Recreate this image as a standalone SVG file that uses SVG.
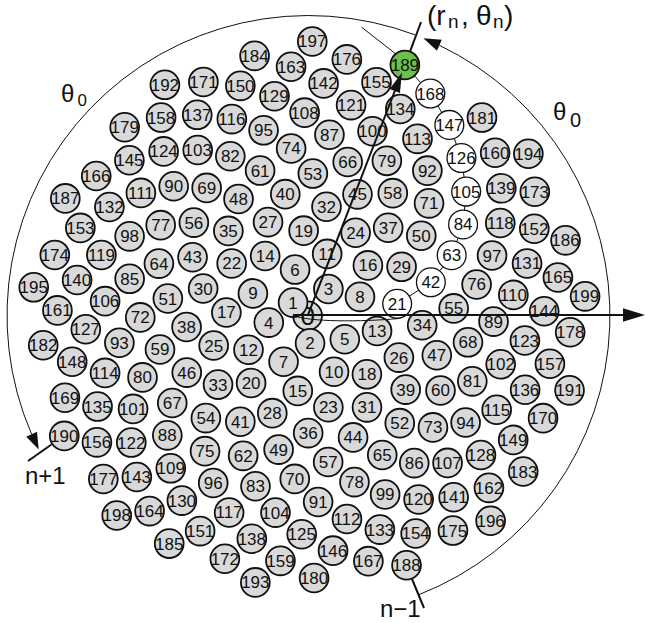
<svg xmlns="http://www.w3.org/2000/svg" width="645" height="623" viewBox="0 0 645 623">
<style>
#nodes circle{fill:#d9d9d9;stroke:#111;stroke-width:1.8}
#nodes .w circle{fill:#fff;stroke-width:1.3}
#nodes .g circle{fill:#6cbf4a}
#nodes text{font-family:"Liberation Sans",Arial,sans-serif;font-size:17px;text-anchor:middle;fill:#111}
.lbl{font-family:"Liberation Sans",Arial,sans-serif;fill:#111}
.thin{fill:none;stroke:#111;stroke-width:1}
.thick{fill:none;stroke:#111;stroke-width:2}
.head{fill:#111;stroke:none}
</style>
<rect width="645" height="623" fill="#fff"/>
<g id="nodes" transform="translate(307.6,315.8) scale(19.72,19.55)">
<g id="n0" transform="scale(.05071,.05115)"><circle r="14.4"/><text y="9.3" style="font-size:26px">0</text></g>
<g id="n1" transform="rotate(-137.51)translate(1)rotate(137.51)scale(.05071,.05115)"><circle r="14.4"/><text y="6">1</text></g>
<g id="n2" transform="rotate(-275.02)translate(1.414)rotate(275.02)scale(.05071,.05115)"><circle r="14.4"/><text y="6">2</text></g>
<g id="n3" transform="rotate(-412.52)translate(1.732)rotate(412.52)scale(.05071,.05115)"><circle r="14.4"/><text y="6">3</text></g>
<g id="n4" transform="rotate(-550.03)translate(2)rotate(550.03)scale(.05071,.05115)"><circle r="14.4"/><text y="6">4</text></g>
<g id="n5" transform="rotate(-687.54)translate(2.236)rotate(687.54)scale(.05071,.05115)"><circle r="14.4"/><text y="6">5</text></g>
<g id="n6" transform="rotate(-825.05)translate(2.449)rotate(825.05)scale(.05071,.05115)"><circle r="14.4"/><text y="6">6</text></g>
<g id="n7" transform="rotate(-962.55)translate(2.646)rotate(962.55)scale(.05071,.05115)"><circle r="14.4"/><text y="6">7</text></g>
<g id="n8" transform="rotate(-1100.06)translate(2.828)rotate(1100.06)scale(.05071,.05115)"><circle r="14.4"/><text y="6">8</text></g>
<g id="n9" transform="rotate(-1237.57)translate(3)rotate(1237.57)scale(.05071,.05115)"><circle r="14.4"/><text y="6">9</text></g>
<g id="n10" transform="rotate(-1375.08)translate(3.162)rotate(1375.08)scale(.05071,.05115)"><circle r="14.4"/><text y="6">10</text></g>
<g id="n11" transform="rotate(-1512.59)translate(3.317)rotate(1512.59)scale(.05071,.05115)"><circle r="14.4"/><text y="6">11</text></g>
<g id="n12" transform="rotate(-1650.09)translate(3.464)rotate(1650.09)scale(.05071,.05115)"><circle r="14.4"/><text y="6">12</text></g>
<g id="n13" transform="rotate(-1787.60)translate(3.606)rotate(1787.60)scale(.05071,.05115)"><circle r="14.4"/><text y="6">13</text></g>
<g id="n14" transform="rotate(-1925.11)translate(3.742)rotate(1925.11)scale(.05071,.05115)"><circle r="14.4"/><text y="6">14</text></g>
<g id="n15" transform="rotate(-2062.62)translate(3.873)rotate(2062.62)scale(.05071,.05115)"><circle r="14.4"/><text y="6">15</text></g>
<g id="n16" transform="rotate(-2200.12)translate(4)rotate(2200.12)scale(.05071,.05115)"><circle r="14.4"/><text y="6">16</text></g>
<g id="n17" transform="rotate(-2337.63)translate(4.123)rotate(2337.63)scale(.05071,.05115)"><circle r="14.4"/><text y="6">17</text></g>
<g id="n18" transform="rotate(-2475.14)translate(4.243)rotate(2475.14)scale(.05071,.05115)"><circle r="14.4"/><text y="6">18</text></g>
<g id="n19" transform="rotate(-2612.65)translate(4.359)rotate(2612.65)scale(.05071,.05115)"><circle r="14.4"/><text y="6">19</text></g>
<g id="n20" transform="rotate(-2750.16)translate(4.472)rotate(2750.16)scale(.05071,.05115)"><circle r="14.4"/><text y="6">20</text></g>
<g id="n21" class="w" transform="rotate(-2887.66)translate(4.583)rotate(2887.66)scale(.05071,.05115)"><circle r="14.4"/><text y="6">21</text></g>
<g id="n22" transform="rotate(-3025.17)translate(4.690)rotate(3025.17)scale(.05071,.05115)"><circle r="14.4"/><text y="6">22</text></g>
<g id="n23" transform="rotate(-3162.68)translate(4.796)rotate(3162.68)scale(.05071,.05115)"><circle r="14.4"/><text y="6">23</text></g>
<g id="n24" transform="rotate(-3300.19)translate(4.899)rotate(3300.19)scale(.05071,.05115)"><circle r="14.4"/><text y="6">24</text></g>
<g id="n25" transform="rotate(-3437.69)translate(5)rotate(3437.69)scale(.05071,.05115)"><circle r="14.4"/><text y="6">25</text></g>
<g id="n26" transform="rotate(-3575.20)translate(5.099)rotate(3575.20)scale(.05071,.05115)"><circle r="14.4"/><text y="6">26</text></g>
<g id="n27" transform="rotate(-3712.71)translate(5.196)rotate(3712.71)scale(.05071,.05115)"><circle r="14.4"/><text y="6">27</text></g>
<g id="n28" transform="rotate(-3850.22)translate(5.292)rotate(3850.22)scale(.05071,.05115)"><circle r="14.4"/><text y="6">28</text></g>
<g id="n29" transform="rotate(-3987.73)translate(5.385)rotate(3987.73)scale(.05071,.05115)"><circle r="14.4"/><text y="6">29</text></g>
<g id="n30" transform="rotate(-4125.23)translate(5.477)rotate(4125.23)scale(.05071,.05115)"><circle r="14.4"/><text y="6">30</text></g>
<g id="n31" transform="rotate(-4262.74)translate(5.568)rotate(4262.74)scale(.05071,.05115)"><circle r="14.4"/><text y="6">31</text></g>
<g id="n32" transform="rotate(-4400.25)translate(5.657)rotate(4400.25)scale(.05071,.05115)"><circle r="14.4"/><text y="6">32</text></g>
<g id="n33" transform="rotate(-4537.76)translate(5.745)rotate(4537.76)scale(.05071,.05115)"><circle r="14.4"/><text y="6">33</text></g>
<g id="n34" transform="rotate(-4675.26)translate(5.831)rotate(4675.26)scale(.05071,.05115)"><circle r="14.4"/><text y="6">34</text></g>
<g id="n35" transform="rotate(-4812.77)translate(5.916)rotate(4812.77)scale(.05071,.05115)"><circle r="14.4"/><text y="6">35</text></g>
<g id="n36" transform="rotate(-4950.28)translate(6)rotate(4950.28)scale(.05071,.05115)"><circle r="14.4"/><text y="6">36</text></g>
<g id="n37" transform="rotate(-5087.79)translate(6.083)rotate(5087.79)scale(.05071,.05115)"><circle r="14.4"/><text y="6">37</text></g>
<g id="n38" transform="rotate(-5225.30)translate(6.164)rotate(5225.30)scale(.05071,.05115)"><circle r="14.4"/><text y="6">38</text></g>
<g id="n39" transform="rotate(-5362.80)translate(6.245)rotate(5362.80)scale(.05071,.05115)"><circle r="14.4"/><text y="6">39</text></g>
<g id="n40" transform="rotate(-5500.31)translate(6.325)rotate(5500.31)scale(.05071,.05115)"><circle r="14.4"/><text y="6">40</text></g>
<g id="n41" transform="rotate(-5637.82)translate(6.403)rotate(5637.82)scale(.05071,.05115)"><circle r="14.4"/><text y="6">41</text></g>
<g id="n42" class="w" transform="rotate(-5775.33)translate(6.481)rotate(5775.33)scale(.05071,.05115)"><circle r="14.4"/><text y="6">42</text></g>
<g id="n43" transform="rotate(-5912.83)translate(6.557)rotate(5912.83)scale(.05071,.05115)"><circle r="14.4"/><text y="6">43</text></g>
<g id="n44" transform="rotate(-6050.34)translate(6.633)rotate(6050.34)scale(.05071,.05115)"><circle r="14.4"/><text y="6">44</text></g>
<g id="n45" transform="rotate(-6187.85)translate(6.708)rotate(6187.85)scale(.05071,.05115)"><circle r="14.4"/><text y="6">45</text></g>
<g id="n46" transform="rotate(-6325.36)translate(6.782)rotate(6325.36)scale(.05071,.05115)"><circle r="14.4"/><text y="6">46</text></g>
<g id="n47" transform="rotate(-6462.86)translate(6.856)rotate(6462.86)scale(.05071,.05115)"><circle r="14.4"/><text y="6">47</text></g>
<g id="n48" transform="rotate(-6600.37)translate(6.928)rotate(6600.37)scale(.05071,.05115)"><circle r="14.4"/><text y="6">48</text></g>
<g id="n49" transform="rotate(-6737.88)translate(7)rotate(6737.88)scale(.05071,.05115)"><circle r="14.4"/><text y="6">49</text></g>
<g id="n50" transform="rotate(-6875.39)translate(7.071)rotate(6875.39)scale(.05071,.05115)"><circle r="14.4"/><text y="6">50</text></g>
<g id="n51" transform="rotate(-7012.90)translate(7.141)rotate(7012.90)scale(.05071,.05115)"><circle r="14.4"/><text y="6">51</text></g>
<g id="n52" transform="rotate(-7150.40)translate(7.211)rotate(7150.40)scale(.05071,.05115)"><circle r="14.4"/><text y="6">52</text></g>
<g id="n53" transform="rotate(-7287.91)translate(7.280)rotate(7287.91)scale(.05071,.05115)"><circle r="14.4"/><text y="6">53</text></g>
<g id="n54" transform="rotate(-7425.42)translate(7.348)rotate(7425.42)scale(.05071,.05115)"><circle r="14.4"/><text y="6">54</text></g>
<g id="n55" transform="rotate(-7562.93)translate(7.416)rotate(7562.93)scale(.05071,.05115)"><circle r="14.4"/><text y="6">55</text></g>
<g id="n56" transform="rotate(-7700.43)translate(7.483)rotate(7700.43)scale(.05071,.05115)"><circle r="14.4"/><text y="6">56</text></g>
<g id="n57" transform="rotate(-7837.94)translate(7.550)rotate(7837.94)scale(.05071,.05115)"><circle r="14.4"/><text y="6">57</text></g>
<g id="n58" transform="rotate(-7975.45)translate(7.616)rotate(7975.45)scale(.05071,.05115)"><circle r="14.4"/><text y="6">58</text></g>
<g id="n59" transform="rotate(-8112.96)translate(7.681)rotate(8112.96)scale(.05071,.05115)"><circle r="14.4"/><text y="6">59</text></g>
<g id="n60" transform="rotate(-8250.47)translate(7.746)rotate(8250.47)scale(.05071,.05115)"><circle r="14.4"/><text y="6">60</text></g>
<g id="n61" transform="rotate(-8387.97)translate(7.810)rotate(8387.97)scale(.05071,.05115)"><circle r="14.4"/><text y="6">61</text></g>
<g id="n62" transform="rotate(-8525.48)translate(7.874)rotate(8525.48)scale(.05071,.05115)"><circle r="14.4"/><text y="6">62</text></g>
<g id="n63" class="w" transform="rotate(-8662.99)translate(7.937)rotate(8662.99)scale(.05071,.05115)"><circle r="14.4"/><text y="6">63</text></g>
<g id="n64" transform="rotate(-8800.50)translate(8)rotate(8800.50)scale(.05071,.05115)"><circle r="14.4"/><text y="6">64</text></g>
<g id="n65" transform="rotate(-8938.00)translate(8.062)rotate(8938.00)scale(.05071,.05115)"><circle r="14.4"/><text y="6">65</text></g>
<g id="n66" transform="rotate(-9075.51)translate(8.124)rotate(9075.51)scale(.05071,.05115)"><circle r="14.4"/><text y="6">66</text></g>
<g id="n67" transform="rotate(-9213.02)translate(8.185)rotate(9213.02)scale(.05071,.05115)"><circle r="14.4"/><text y="6">67</text></g>
<g id="n68" transform="rotate(-9350.53)translate(8.246)rotate(9350.53)scale(.05071,.05115)"><circle r="14.4"/><text y="6">68</text></g>
<g id="n69" transform="rotate(-9488.04)translate(8.307)rotate(9488.04)scale(.05071,.05115)"><circle r="14.4"/><text y="6">69</text></g>
<g id="n70" transform="rotate(-9625.54)translate(8.367)rotate(9625.54)scale(.05071,.05115)"><circle r="14.4"/><text y="6">70</text></g>
<g id="n71" transform="rotate(-9763.05)translate(8.426)rotate(9763.05)scale(.05071,.05115)"><circle r="14.4"/><text y="6">71</text></g>
<g id="n72" transform="rotate(-9900.56)translate(8.485)rotate(9900.56)scale(.05071,.05115)"><circle r="14.4"/><text y="6">72</text></g>
<g id="n73" transform="rotate(-10038.07)translate(8.544)rotate(10038.07)scale(.05071,.05115)"><circle r="14.4"/><text y="6">73</text></g>
<g id="n74" transform="rotate(-10175.57)translate(8.602)rotate(10175.57)scale(.05071,.05115)"><circle r="14.4"/><text y="6">74</text></g>
<g id="n75" transform="rotate(-10313.08)translate(8.660)rotate(10313.08)scale(.05071,.05115)"><circle r="14.4"/><text y="6">75</text></g>
<g id="n76" transform="rotate(-10450.59)translate(8.718)rotate(10450.59)scale(.05071,.05115)"><circle r="14.4"/><text y="6">76</text></g>
<g id="n77" transform="rotate(-10588.10)translate(8.775)rotate(10588.10)scale(.05071,.05115)"><circle r="14.4"/><text y="6">77</text></g>
<g id="n78" transform="rotate(-10725.61)translate(8.832)rotate(10725.61)scale(.05071,.05115)"><circle r="14.4"/><text y="6">78</text></g>
<g id="n79" transform="rotate(-10863.11)translate(8.888)rotate(10863.11)scale(.05071,.05115)"><circle r="14.4"/><text y="6">79</text></g>
<g id="n80" transform="rotate(-11000.62)translate(8.944)rotate(11000.62)scale(.05071,.05115)"><circle r="14.4"/><text y="6">80</text></g>
<g id="n81" transform="rotate(-11138.13)translate(9)rotate(11138.13)scale(.05071,.05115)"><circle r="14.4"/><text y="6">81</text></g>
<g id="n82" transform="rotate(-11275.64)translate(9.055)rotate(11275.64)scale(.05071,.05115)"><circle r="14.4"/><text y="6">82</text></g>
<g id="n83" transform="rotate(-11413.14)translate(9.110)rotate(11413.14)scale(.05071,.05115)"><circle r="14.4"/><text y="6">83</text></g>
<g id="n84" class="w" transform="rotate(-11550.65)translate(9.165)rotate(11550.65)scale(.05071,.05115)"><circle r="14.4"/><text y="6">84</text></g>
<g id="n85" transform="rotate(-11688.16)translate(9.220)rotate(11688.16)scale(.05071,.05115)"><circle r="14.4"/><text y="6">85</text></g>
<g id="n86" transform="rotate(-11825.67)translate(9.274)rotate(11825.67)scale(.05071,.05115)"><circle r="14.4"/><text y="6">86</text></g>
<g id="n87" transform="rotate(-11963.18)translate(9.327)rotate(11963.18)scale(.05071,.05115)"><circle r="14.4"/><text y="6">87</text></g>
<g id="n88" transform="rotate(-12100.68)translate(9.381)rotate(12100.68)scale(.05071,.05115)"><circle r="14.4"/><text y="6">88</text></g>
<g id="n89" transform="rotate(-12238.19)translate(9.434)rotate(12238.19)scale(.05071,.05115)"><circle r="14.4"/><text y="6">89</text></g>
<g id="n90" transform="rotate(-12375.70)translate(9.487)rotate(12375.70)scale(.05071,.05115)"><circle r="14.4"/><text y="6">90</text></g>
<g id="n91" transform="rotate(-12513.21)translate(9.539)rotate(12513.21)scale(.05071,.05115)"><circle r="14.4"/><text y="6">91</text></g>
<g id="n92" transform="rotate(-12650.71)translate(9.592)rotate(12650.71)scale(.05071,.05115)"><circle r="14.4"/><text y="6">92</text></g>
<g id="n93" transform="rotate(-12788.22)translate(9.644)rotate(12788.22)scale(.05071,.05115)"><circle r="14.4"/><text y="6">93</text></g>
<g id="n94" transform="rotate(-12925.73)translate(9.695)rotate(12925.73)scale(.05071,.05115)"><circle r="14.4"/><text y="6">94</text></g>
<g id="n95" transform="rotate(-13063.24)translate(9.747)rotate(13063.24)scale(.05071,.05115)"><circle r="14.4"/><text y="6">95</text></g>
<g id="n96" transform="rotate(-13200.75)translate(9.798)rotate(13200.75)scale(.05071,.05115)"><circle r="14.4"/><text y="6">96</text></g>
<g id="n97" transform="rotate(-13338.25)translate(9.849)rotate(13338.25)scale(.05071,.05115)"><circle r="14.4"/><text y="6">97</text></g>
<g id="n98" transform="rotate(-13475.76)translate(9.899)rotate(13475.76)scale(.05071,.05115)"><circle r="14.4"/><text y="6">98</text></g>
<g id="n99" transform="rotate(-13613.27)translate(9.950)rotate(13613.27)scale(.05071,.05115)"><circle r="14.4"/><text y="6">99</text></g>
<g id="n100" transform="rotate(-13750.78)translate(10)rotate(13750.78)scale(.05071,.05115)"><circle r="14.4"/><text y="6">100</text></g>
<g id="n101" transform="rotate(-13888.28)translate(10.050)rotate(13888.28)scale(.05071,.05115)"><circle r="14.4"/><text y="6">101</text></g>
<g id="n102" transform="rotate(-14025.79)translate(10.100)rotate(14025.79)scale(.05071,.05115)"><circle r="14.4"/><text y="6">102</text></g>
<g id="n103" transform="rotate(-14163.30)translate(10.149)rotate(14163.30)scale(.05071,.05115)"><circle r="14.4"/><text y="6">103</text></g>
<g id="n104" transform="rotate(-14300.81)translate(10.198)rotate(14300.81)scale(.05071,.05115)"><circle r="14.4"/><text y="6">104</text></g>
<g id="n105" class="w" transform="rotate(-14438.31)translate(10.247)rotate(14438.31)scale(.05071,.05115)"><circle r="14.4"/><text y="6">105</text></g>
<g id="n106" transform="rotate(-14575.82)translate(10.296)rotate(14575.82)scale(.05071,.05115)"><circle r="14.4"/><text y="6">106</text></g>
<g id="n107" transform="rotate(-14713.33)translate(10.344)rotate(14713.33)scale(.05071,.05115)"><circle r="14.4"/><text y="6">107</text></g>
<g id="n108" transform="rotate(-14850.84)translate(10.392)rotate(14850.84)scale(.05071,.05115)"><circle r="14.4"/><text y="6">108</text></g>
<g id="n109" transform="rotate(-14988.35)translate(10.440)rotate(14988.35)scale(.05071,.05115)"><circle r="14.4"/><text y="6">109</text></g>
<g id="n110" transform="rotate(-15125.85)translate(10.488)rotate(15125.85)scale(.05071,.05115)"><circle r="14.4"/><text y="6">110</text></g>
<g id="n111" transform="rotate(-15263.36)translate(10.536)rotate(15263.36)scale(.05071,.05115)"><circle r="14.4"/><text y="6">111</text></g>
<g id="n112" transform="rotate(-15400.87)translate(10.583)rotate(15400.87)scale(.05071,.05115)"><circle r="14.4"/><text y="6">112</text></g>
<g id="n113" transform="rotate(-15538.38)translate(10.630)rotate(15538.38)scale(.05071,.05115)"><circle r="14.4"/><text y="6">113</text></g>
<g id="n114" transform="rotate(-15675.88)translate(10.677)rotate(15675.88)scale(.05071,.05115)"><circle r="14.4"/><text y="6">114</text></g>
<g id="n115" transform="rotate(-15813.39)translate(10.724)rotate(15813.39)scale(.05071,.05115)"><circle r="14.4"/><text y="6">115</text></g>
<g id="n116" transform="rotate(-15950.90)translate(10.770)rotate(15950.90)scale(.05071,.05115)"><circle r="14.4"/><text y="6">116</text></g>
<g id="n117" transform="rotate(-16088.41)translate(10.817)rotate(16088.41)scale(.05071,.05115)"><circle r="14.4"/><text y="6">117</text></g>
<g id="n118" transform="rotate(-16225.92)translate(10.863)rotate(16225.92)scale(.05071,.05115)"><circle r="14.4"/><text y="6">118</text></g>
<g id="n119" transform="rotate(-16363.42)translate(10.909)rotate(16363.42)scale(.05071,.05115)"><circle r="14.4"/><text y="6">119</text></g>
<g id="n120" transform="rotate(-16500.93)translate(10.954)rotate(16500.93)scale(.05071,.05115)"><circle r="14.4"/><text y="6">120</text></g>
<g id="n121" transform="rotate(-16638.44)translate(11)rotate(16638.44)scale(.05071,.05115)"><circle r="14.4"/><text y="6">121</text></g>
<g id="n122" transform="rotate(-16775.95)translate(11.045)rotate(16775.95)scale(.05071,.05115)"><circle r="14.4"/><text y="6">122</text></g>
<g id="n123" transform="rotate(-16913.45)translate(11.091)rotate(16913.45)scale(.05071,.05115)"><circle r="14.4"/><text y="6">123</text></g>
<g id="n124" transform="rotate(-17050.96)translate(11.136)rotate(17050.96)scale(.05071,.05115)"><circle r="14.4"/><text y="6">124</text></g>
<g id="n125" transform="rotate(-17188.47)translate(11.180)rotate(17188.47)scale(.05071,.05115)"><circle r="14.4"/><text y="6">125</text></g>
<g id="n126" class="w" transform="rotate(-17325.98)translate(11.225)rotate(17325.98)scale(.05071,.05115)"><circle r="14.4"/><text y="6">126</text></g>
<g id="n127" transform="rotate(-17463.49)translate(11.269)rotate(17463.49)scale(.05071,.05115)"><circle r="14.4"/><text y="6">127</text></g>
<g id="n128" transform="rotate(-17600.99)translate(11.314)rotate(17600.99)scale(.05071,.05115)"><circle r="14.4"/><text y="6">128</text></g>
<g id="n129" transform="rotate(-17738.50)translate(11.358)rotate(17738.50)scale(.05071,.05115)"><circle r="14.4"/><text y="6">129</text></g>
<g id="n130" transform="rotate(-17876.01)translate(11.402)rotate(17876.01)scale(.05071,.05115)"><circle r="14.4"/><text y="6">130</text></g>
<g id="n131" transform="rotate(-18013.52)translate(11.446)rotate(18013.52)scale(.05071,.05115)"><circle r="14.4"/><text y="6">131</text></g>
<g id="n132" transform="rotate(-18151.02)translate(11.489)rotate(18151.02)scale(.05071,.05115)"><circle r="14.4"/><text y="6">132</text></g>
<g id="n133" transform="rotate(-18288.53)translate(11.533)rotate(18288.53)scale(.05071,.05115)"><circle r="14.4"/><text y="6">133</text></g>
<g id="n134" transform="rotate(-18426.04)translate(11.576)rotate(18426.04)scale(.05071,.05115)"><circle r="14.4"/><text y="6">134</text></g>
<g id="n135" transform="rotate(-18563.55)translate(11.619)rotate(18563.55)scale(.05071,.05115)"><circle r="14.4"/><text y="6">135</text></g>
<g id="n136" transform="rotate(-18701.06)translate(11.662)rotate(18701.06)scale(.05071,.05115)"><circle r="14.4"/><text y="6">136</text></g>
<g id="n137" transform="rotate(-18838.56)translate(11.705)rotate(18838.56)scale(.05071,.05115)"><circle r="14.4"/><text y="6">137</text></g>
<g id="n138" transform="rotate(-18976.07)translate(11.747)rotate(18976.07)scale(.05071,.05115)"><circle r="14.4"/><text y="6">138</text></g>
<g id="n139" transform="rotate(-19113.58)translate(11.790)rotate(19113.58)scale(.05071,.05115)"><circle r="14.4"/><text y="6">139</text></g>
<g id="n140" transform="rotate(-19251.09)translate(11.832)rotate(19251.09)scale(.05071,.05115)"><circle r="14.4"/><text y="6">140</text></g>
<g id="n141" transform="rotate(-19388.59)translate(11.874)rotate(19388.59)scale(.05071,.05115)"><circle r="14.4"/><text y="6">141</text></g>
<g id="n142" transform="rotate(-19526.10)translate(11.916)rotate(19526.10)scale(.05071,.05115)"><circle r="14.4"/><text y="6">142</text></g>
<g id="n143" transform="rotate(-19663.61)translate(11.958)rotate(19663.61)scale(.05071,.05115)"><circle r="14.4"/><text y="6">143</text></g>
<g id="n144" transform="rotate(-19801.12)translate(12)rotate(19801.12)scale(.05071,.05115)"><circle r="14.4"/><text y="6">144</text></g>
<g id="n145" transform="rotate(-19938.63)translate(12.042)rotate(19938.63)scale(.05071,.05115)"><circle r="14.4"/><text y="6">145</text></g>
<g id="n146" transform="rotate(-20076.13)translate(12.083)rotate(20076.13)scale(.05071,.05115)"><circle r="14.4"/><text y="6">146</text></g>
<g id="n147" class="w" transform="rotate(-20213.64)translate(12.124)rotate(20213.64)scale(.05071,.05115)"><circle r="14.4"/><text y="6">147</text></g>
<g id="n148" transform="rotate(-20351.15)translate(12.166)rotate(20351.15)scale(.05071,.05115)"><circle r="14.4"/><text y="6">148</text></g>
<g id="n149" transform="rotate(-20488.66)translate(12.207)rotate(20488.66)scale(.05071,.05115)"><circle r="14.4"/><text y="6">149</text></g>
<g id="n150" transform="rotate(-20626.16)translate(12.247)rotate(20626.16)scale(.05071,.05115)"><circle r="14.4"/><text y="6">150</text></g>
<g id="n151" transform="rotate(-20763.67)translate(12.288)rotate(20763.67)scale(.05071,.05115)"><circle r="14.4"/><text y="6">151</text></g>
<g id="n152" transform="rotate(-20901.18)translate(12.329)rotate(20901.18)scale(.05071,.05115)"><circle r="14.4"/><text y="6">152</text></g>
<g id="n153" transform="rotate(-21038.69)translate(12.369)rotate(21038.69)scale(.05071,.05115)"><circle r="14.4"/><text y="6">153</text></g>
<g id="n154" transform="rotate(-21176.20)translate(12.410)rotate(21176.20)scale(.05071,.05115)"><circle r="14.4"/><text y="6">154</text></g>
<g id="n155" transform="rotate(-21313.70)translate(12.450)rotate(21313.70)scale(.05071,.05115)"><circle r="14.4"/><text y="6">155</text></g>
<g id="n156" transform="rotate(-21451.21)translate(12.490)rotate(21451.21)scale(.05071,.05115)"><circle r="14.4"/><text y="6">156</text></g>
<g id="n157" transform="rotate(-21588.72)translate(12.530)rotate(21588.72)scale(.05071,.05115)"><circle r="14.4"/><text y="6">157</text></g>
<g id="n158" transform="rotate(-21726.23)translate(12.570)rotate(21726.23)scale(.05071,.05115)"><circle r="14.4"/><text y="6">158</text></g>
<g id="n159" transform="rotate(-21863.73)translate(12.610)rotate(21863.73)scale(.05071,.05115)"><circle r="14.4"/><text y="6">159</text></g>
<g id="n160" transform="rotate(-22001.24)translate(12.649)rotate(22001.24)scale(.05071,.05115)"><circle r="14.4"/><text y="6">160</text></g>
<g id="n161" transform="rotate(-22138.75)translate(12.689)rotate(22138.75)scale(.05071,.05115)"><circle r="14.4"/><text y="6">161</text></g>
<g id="n162" transform="rotate(-22276.26)translate(12.728)rotate(22276.26)scale(.05071,.05115)"><circle r="14.4"/><text y="6">162</text></g>
<g id="n163" transform="rotate(-22413.77)translate(12.767)rotate(22413.77)scale(.05071,.05115)"><circle r="14.4"/><text y="6">163</text></g>
<g id="n164" transform="rotate(-22551.27)translate(12.806)rotate(22551.27)scale(.05071,.05115)"><circle r="14.4"/><text y="6">164</text></g>
<g id="n165" transform="rotate(-22688.78)translate(12.845)rotate(22688.78)scale(.05071,.05115)"><circle r="14.4"/><text y="6">165</text></g>
<g id="n166" transform="rotate(-22826.29)translate(12.884)rotate(22826.29)scale(.05071,.05115)"><circle r="14.4"/><text y="6">166</text></g>
<g id="n167" transform="rotate(-22963.80)translate(12.923)rotate(22963.80)scale(.05071,.05115)"><circle r="14.4"/><text y="6">167</text></g>
<g id="n168" class="w" transform="rotate(-23101.30)translate(12.961)rotate(23101.30)scale(.05071,.05115)"><circle r="14.4"/><text y="6">168</text></g>
<g id="n169" transform="rotate(-23238.81)translate(13)rotate(23238.81)scale(.05071,.05115)"><circle r="14.4"/><text y="6">169</text></g>
<g id="n170" transform="rotate(-23376.32)translate(13.038)rotate(23376.32)scale(.05071,.05115)"><circle r="14.4"/><text y="6">170</text></g>
<g id="n171" transform="rotate(-23513.83)translate(13.077)rotate(23513.83)scale(.05071,.05115)"><circle r="14.4"/><text y="6">171</text></g>
<g id="n172" transform="rotate(-23651.34)translate(13.115)rotate(23651.34)scale(.05071,.05115)"><circle r="14.4"/><text y="6">172</text></g>
<g id="n173" transform="rotate(-23788.84)translate(13.153)rotate(23788.84)scale(.05071,.05115)"><circle r="14.4"/><text y="6">173</text></g>
<g id="n174" transform="rotate(-23926.35)translate(13.191)rotate(23926.35)scale(.05071,.05115)"><circle r="14.4"/><text y="6">174</text></g>
<g id="n175" transform="rotate(-24063.86)translate(13.229)rotate(24063.86)scale(.05071,.05115)"><circle r="14.4"/><text y="6">175</text></g>
<g id="n176" transform="rotate(-24201.37)translate(13.266)rotate(24201.37)scale(.05071,.05115)"><circle r="14.4"/><text y="6">176</text></g>
<g id="n177" transform="rotate(-24338.87)translate(13.304)rotate(24338.87)scale(.05071,.05115)"><circle r="14.4"/><text y="6">177</text></g>
<g id="n178" transform="rotate(-24476.38)translate(13.342)rotate(24476.38)scale(.05071,.05115)"><circle r="14.4"/><text y="6">178</text></g>
<g id="n179" transform="rotate(-24613.89)translate(13.379)rotate(24613.89)scale(.05071,.05115)"><circle r="14.4"/><text y="6">179</text></g>
<g id="n180" transform="rotate(-24751.40)translate(13.416)rotate(24751.40)scale(.05071,.05115)"><circle r="14.4"/><text y="6">180</text></g>
<g id="n181" transform="rotate(-24888.91)translate(13.454)rotate(24888.91)scale(.05071,.05115)"><circle r="14.4"/><text y="6">181</text></g>
<g id="n182" transform="rotate(-25026.41)translate(13.491)rotate(25026.41)scale(.05071,.05115)"><circle r="14.4"/><text y="6">182</text></g>
<g id="n183" transform="rotate(-25163.92)translate(13.528)rotate(25163.92)scale(.05071,.05115)"><circle r="14.4"/><text y="6">183</text></g>
<g id="n184" transform="rotate(-25301.43)translate(13.565)rotate(25301.43)scale(.05071,.05115)"><circle r="14.4"/><text y="6">184</text></g>
<g id="n185" transform="rotate(-25438.94)translate(13.601)rotate(25438.94)scale(.05071,.05115)"><circle r="14.4"/><text y="6">185</text></g>
<g id="n186" transform="rotate(-25576.44)translate(13.638)rotate(25576.44)scale(.05071,.05115)"><circle r="14.4"/><text y="6">186</text></g>
<g id="n187" transform="rotate(-25713.95)translate(13.675)rotate(25713.95)scale(.05071,.05115)"><circle r="14.4"/><text y="6">187</text></g>
<g id="n188" transform="rotate(-25851.46)translate(13.711)rotate(25851.46)scale(.05071,.05115)"><circle r="14.4"/><text y="6">188</text></g>
<g id="n189" class="g" transform="rotate(-25988.97)translate(13.748)rotate(25988.97)scale(.05071,.05115)"><circle r="14.4"/><text y="6">189</text></g>
<g id="n190" transform="rotate(-26126.47)translate(13.784)rotate(26126.47)scale(.05071,.05115)"><circle r="14.4"/><text y="6">190</text></g>
<g id="n191" transform="rotate(-26263.98)translate(13.820)rotate(26263.98)scale(.05071,.05115)"><circle r="14.4"/><text y="6">191</text></g>
<g id="n192" transform="rotate(-26401.49)translate(13.856)rotate(26401.49)scale(.05071,.05115)"><circle r="14.4"/><text y="6">192</text></g>
<g id="n193" transform="rotate(-26539.00)translate(13.892)rotate(26539.00)scale(.05071,.05115)"><circle r="14.4"/><text y="6">193</text></g>
<g id="n194" transform="rotate(-26676.51)translate(13.928)rotate(26676.51)scale(.05071,.05115)"><circle r="14.4"/><text y="6">194</text></g>
<g id="n195" transform="rotate(-26814.01)translate(13.964)rotate(26814.01)scale(.05071,.05115)"><circle r="14.4"/><text y="6">195</text></g>
<g id="n196" transform="rotate(-26951.52)translate(14)rotate(26951.52)scale(.05071,.05115)"><circle r="14.4"/><text y="6">196</text></g>
<g id="n197" transform="rotate(-27089.03)translate(14.036)rotate(27089.03)scale(.05071,.05115)"><circle r="14.4"/><text y="6">197</text></g>
<g id="n198" transform="rotate(-27226.54)translate(14.071)rotate(27226.54)scale(.05071,.05115)"><circle r="14.4"/><text y="6">198</text></g>
<g id="n199" transform="rotate(-27364.04)translate(14.107)rotate(27364.04)scale(.05071,.05115)"><circle r="14.4"/><text y="6">199</text></g>
</g>
<g id="connectors">
<path class="thin" d="M409.4,296.1L418.7,290.1M439.7,270.8L442.9,266.7M456.7,241.6L458.1,238.1M464.4,210.1L464.8,206.0M464.1,177.2L463.4,172.4M456.4,144.4L454.3,138.5M441.8,112.5L437.8,105.9M420.7,82.7L414.5,75.7"/>
<path class="thin" d="M293,315.5C310,322 360,322 399,318.5"/>
<path class="thin" d="M415.1,34.9A301.5,300 0 0 0 31.6,434.2"/>
<polygon class="head" points="38.7,449.4 37.0,431.7 26.2,436.7"/>
<path class="thin" d="M418.8,594.7A301.5,300 0 0 0 439.4,45.3"/>
<polygon class="head" points="423.4,38.2 441.8,39.8 437.0,50.8"/>
<path class="thin" d="M361.7,27.3L395,53.3"/>
<path class="thick" d="M293,315L626,315"/>
<polygon class="head" points="645,315 623,308.3 623,321.7"/>
<path class="thick" d="M307.6,315.8L396,88"/>
<polygon class="head" points="402,72.4 399.9,93.0 389.7,89.0"/>
<path class="thick" d="M410.3,50.9L421,22"/>
<path class="thick" d="M412,579L424,608"/>
<path class="thick" d="M51.5,444.5L28,461"/>
</g>
<g id="labels" class="lbl">
<text x="61" y="101.5" font-size="24">θ</text>
<text x="77.5" y="106" font-size="17">0</text>
<text x="553" y="120" font-size="24">θ</text>
<text x="570" y="127" font-size="20">0</text>
<text font-size="28"><tspan x="427" y="25">(r</tspan><tspan x="448" y="28" font-size="19">n</tspan><tspan x="461" y="25">,</tspan><tspan x="476" y="25">θ</tspan><tspan x="493" y="28" font-size="19">n</tspan><tspan x="504" y="25">)</tspan></text>
<text x="25" y="484" font-size="24">n+1</text>
<text x="380" y="617" font-size="24">n−1</text>
</g>
</svg>
